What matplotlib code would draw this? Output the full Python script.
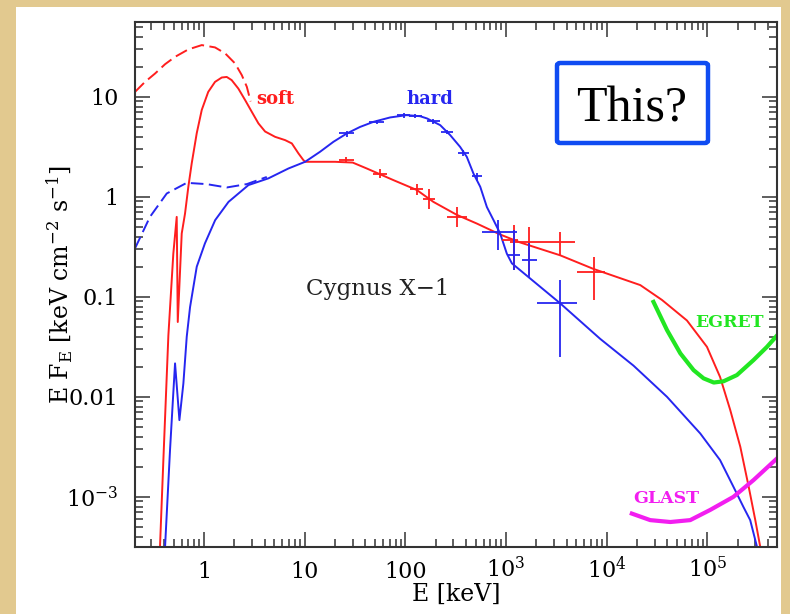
import numpy as np
import matplotlib.pyplot as plt
from matplotlib.patches import Rectangle, FancyBboxPatch
from matplotlib.ticker import LogLocator, NullFormatter

plt.rcParams['font.family'] = ['DejaVu Serif']
plt.rcParams['mathtext.fontset'] = 'dejavuserif'

# soft state, absorbed model (red solid line), E in keV, E F_E
soft_E = [0.365, 0.394, 0.442, 0.495, 0.535, 0.548, 0.600, 0.647, 0.698, 0.754, 0.846, 0.949,
          1.1, 1.285, 1.5, 1.68, 1.88, 2.19, 2.56, 2.98, 3.47, 4.04, 5.08, 6.39, 7.45, 8.66, 9.7,
          10.1, 20, 30, 41.4, 76, 130, 190, 325, 514, 875, 1380, 3460, 7410, 21600, 35500,
          62800, 99300, 134000, 169000, 213000, 258000, 300000, 336000]
soft_F = [3.2e-4, 2.3e-3, 0.041, 0.27, 0.63, 0.056, 0.43, 0.68, 1.26, 2.16, 4.33, 7.4,
          11.2, 14.1, 15.6, 15.8, 14.7, 12.1, 9.27, 7.08, 5.42, 4.5, 3.98, 3.69, 3.42, 2.72, 2.33,
          2.24, 2.24, 2.2, 1.92, 1.47, 1.17, 0.89, 0.66, 0.54, 0.42, 0.35, 0.26, 0.19, 0.131, 0.093,
          0.058, 0.0316, 0.0158, 7.4e-3, 3.16e-3, 1.26e-3, 5.85e-4, 3.16e-4]

# soft state, unabsorbed model (red dashed)
soft_unabs_E = [0.206, 0.259, 0.326, 0.41, 0.515, 0.698, 0.949, 1.285, 1.62, 2.03, 2.37, 2.66, 2.9]
soft_unabs_F = [11.2, 14.1, 17.1, 21.2, 25.1, 29.8, 32.9, 31.2, 27.2, 21.6, 16.5, 12.6, 9.0]

# hard state, absorbed model (blue solid)
hard_E = [0.41, 0.459, 0.489, 0.515, 0.569, 0.623, 0.673, 0.726, 0.846, 1.02, 1.29, 1.75,
          2.76, 4.36, 6.89, 10.1, 14.2, 19.3, 26.2, 35.5, 48.2, 70.6, 103, 140, 164, 222, 279,
          350, 408, 475, 555, 646, 752, 875, 1020, 1145, 1380, 3460, 8630, 18500, 39800, 85200,
          134000, 182000, 229000, 267000, 312000]
hard_F = [3.2e-4, 2.93e-3, 8.9e-3, 0.0216, 5.85e-3, 0.0136, 0.04, 0.079, 0.2, 0.342, 0.585, 0.89,
          1.31, 1.53, 1.92, 2.24, 2.82, 3.55, 4.3, 5.0, 5.62, 6.22, 6.56, 6.4, 6.08, 5.21, 4.14,
          3.16, 2.51, 1.71, 1.26, 0.79, 0.585, 0.43, 0.27, 0.216, 0.185, 0.086, 0.038, 0.0205, 0.01,
          4.3e-3, 2.33e-3, 1.26e-3, 7.9e-4, 5.85e-4, 3.16e-4]

# hard state, unabsorbed model (blue dashed)
hard_unabs_E = [0.206, 0.29, 0.426, 0.673, 1.06, 1.68, 2.66, 4.2]
hard_unabs_F = [0.305, 0.63, 1.08, 1.38, 1.34, 1.24, 1.34, 1.58]

# data points with error bars (E, F, E low, E high, F low, F high)
soft_pt_E = [26, 56, 130, 170, 325, 1188, 1675, 3460, 7410]
soft_pt_F = [2.33, 1.71, 1.2, 0.95, 0.631, 0.369, 0.355, 0.355, 0.178]
soft_pt_Elo = [22, 48, 112, 150, 259, 910, 1100, 2030, 5070]
soft_pt_Ehi = [31, 66, 150, 195, 408, 1330, 2030, 4870, 9680]
soft_pt_Flo = [2.2, 1.55, 1.05, 0.75, 0.501, 0.185, 0.165, 0.261, 0.0927]
soft_pt_Fhi = [2.5, 1.9, 1.35, 1.2, 0.794, 0.521, 0.5, 0.447, 0.251]

hard_pt_E = [26.2, 52, 96, 125, 190, 259, 378, 514, 842, 1188, 1675, 3460]
hard_pt_F = [4.3, 5.6, 6.56, 6.45, 5.7, 4.45, 2.75, 1.6, 0.447, 0.261, 0.233, 0.0859]
hard_pt_Elo = [22, 44, 82, 108, 165, 225, 330, 455, 576, 1020, 1440, 2030]
hard_pt_Ehi = [31, 61, 112, 145, 220, 300, 430, 580, 1283, 1384, 2030, 5070]
hard_pt_Flo = [4.0, 5.3, 6.2, 6.1, 5.4, 4.2, 2.55, 1.45, 0.293, 0.185, 0.159, 0.0251]
hard_pt_Fhi = [4.6, 5.9, 6.9, 6.8, 6.0, 4.7, 2.95, 1.75, 0.585, 0.464, 0.342, 0.147]

# instrument sensitivities
egret_E = [29200, 39800, 54000, 73100, 91900, 116000, 145000, 197000, 288000, 392000, 493000]
egret_F = [0.089, 0.0465, 0.0272, 0.0185, 0.0153, 0.0139, 0.0143, 0.0165, 0.0233, 0.0316, 0.041]
glast_E = [17800, 27100, 42900, 67700, 107000, 182000, 288000, 493000]
glast_F = [6.8e-4, 5.85e-4, 5.6e-4, 5.85e-4, 7.4e-4, 1e-3, 1.47e-3, 2.42e-3]

x_ticks = [1, 10, 100, 1e3, 1e4, 1e5]
x_ticklabels = ['1', '10', '100', r'$10^3$', r'$10^4$', r'$10^5$']
y_ticks = [1e-3, 0.01, 0.1, 1, 10]
y_ticklabels = [r'$10^{-3}$', '0.01', '0.1', '1', '10']

RED = '#ff1e1e'
BLUE = '#2626f0'
GREEN = '#22e622'
MAGENTA = '#f21ef0'

fig = plt.figure(figsize=(7.9, 6.14), dpi=100, facecolor='#e2c98f')
# white page on top of the beige background
fig.add_artist(Rectangle((16 / 790, 0), 765 / 790, 607 / 614, transform=fig.transFigure,
                         facecolor='white', edgecolor='none', zorder=0))
ax = fig.add_axes([135 / 790, 67 / 614, 642 / 790, 525 / 614])
ax.set_facecolor('white')

def errs(v, lo, hi):
    v = np.array(v)
    return [v - np.array(lo), np.array(hi) - v]

# model curves
ax.plot(soft_unabs_E, soft_unabs_F, color=RED, lw=1.4, ls=(0, (6.5, 2.8)))
ax.plot(hard_unabs_E, hard_unabs_F, color=BLUE, lw=1.4, ls=(0, (6.5, 2.8)))
ax.plot(soft_E, soft_F, color=RED, lw=1.4)
ax.plot(hard_E, hard_F, color=BLUE, lw=1.4)

# data crosses
ax.errorbar(soft_pt_E, soft_pt_F, xerr=errs(soft_pt_E, soft_pt_Elo, soft_pt_Ehi),
            yerr=errs(soft_pt_F, soft_pt_Flo, soft_pt_Fhi), fmt='none', ecolor=RED,
            elinewidth=1.3, capsize=0)
ax.errorbar(hard_pt_E, hard_pt_F, xerr=errs(hard_pt_E, hard_pt_Elo, hard_pt_Ehi),
            yerr=errs(hard_pt_F, hard_pt_Flo, hard_pt_Fhi), fmt='none', ecolor=BLUE,
            elinewidth=1.3, capsize=0)

ax.plot(egret_E, egret_F, color=GREEN, lw=3)
ax.plot(glast_E, glast_F, color=MAGENTA, lw=3)

ax.text(5.08, 9.5, 'soft', color=RED, fontsize=13, fontweight='bold', ha='center', va='center')
ax.text(175, 9.6, 'hard', color=BLUE, fontsize=13, fontweight='bold', ha='center', va='center')
ax.text(53, 0.119, 'Cygnus X\u22121', color='#222222', fontsize=16.5, ha='center', va='center')
ax.text(165000, 0.056, 'EGRET', color=GREEN, fontsize=12.5, fontweight='bold', ha='center', va='center')
ax.text(39000, 9.6e-4, 'GLAST', color=MAGENTA, fontsize=12.5, fontweight='bold', ha='center', va='center')

ax.set_xscale('log')
ax.set_yscale('log')
ax.set_xlim(0.206, 4.93e5)
ax.set_ylim(3.15e-4, 56)

ax.set_xticks(x_ticks, x_ticklabels)
ax.set_yticks(y_ticks, y_ticklabels)
ax.xaxis.set_minor_locator(LogLocator(base=10, subs=np.arange(2, 10), numticks=100))
ax.yaxis.set_minor_locator(LogLocator(base=10, subs=np.arange(2, 10), numticks=100))
ax.xaxis.set_minor_formatter(NullFormatter())
ax.yaxis.set_minor_formatter(NullFormatter())
ax.tick_params(which='both', direction='in', top=True, right=True, color='#333333', width=1.1)
ax.tick_params(which='major', length=11)
ax.tick_params(which='minor', length=5.5)
ax.tick_params(axis='x', which='major', labelsize=16, pad=22)
ax.tick_params(axis='y', which='major', labelsize=16, pad=12)
for lab in ax.get_xticklabels():
    lab.set_va('baseline')
for s in ax.spines.values():
    s.set_color('#333333')
    s.set_linewidth(1.5)

ax.set_xlabel('E [keV]', fontsize=17)
ax.set_ylabel(r'E F$_\mathregular{E}$ [keV cm$^{-2}$ s$^{-1}$]', fontsize=17)
ax.xaxis.set_label_coords(0.5, -0.068)
ax.yaxis.set_label_coords(-0.094, 0.5)

# the "This?" callout box
fig.add_artist(FancyBboxPatch((557 / 790, 1 - 143 / 614), 151 / 790, 80 / 614,
                              boxstyle='round,pad=0,rounding_size=0.004', transform=fig.transFigure,
                              facecolor='white', edgecolor='#0f4cf2', linewidth=3.2, zorder=5))
fig.text(631.5 / 790, 1 - 122 / 614, 'This?', family='Liberation Serif', fontsize=36,
         ha='center', va='baseline', zorder=6)

fig.savefig('out.png', dpi=100, facecolor=fig.get_facecolor())
